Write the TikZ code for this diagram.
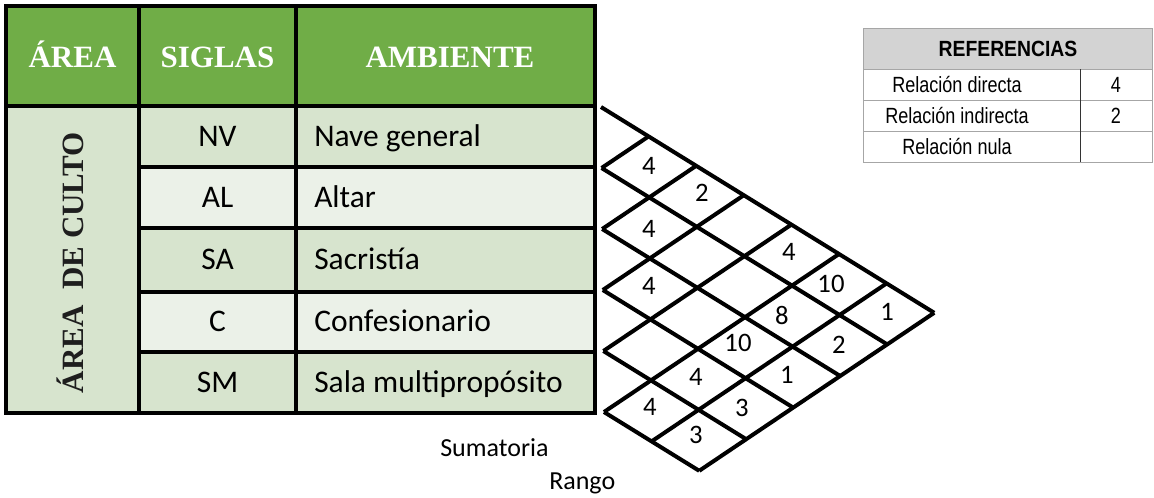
\documentclass[tikz,border=0pt]{standalone}
\usepackage{fontspec}
\setmainfont{Carlito}
\newfontfamily\tnr{Liberation Serif}
\newfontfamily\arialf{Liberation Sans}
\usepackage{graphicx}
\definecolor{hdrgreen}{HTML}{70AD47}
\definecolor{rowdark}{HTML}{D7E4CE}
\definecolor{rowlight}{HTML}{EBF1E8}
\definecolor{refgray}{HTML}{D3D3D3}
\definecolor{refline}{HTML}{A6A6A6}
\definecolor{lbl}{HTML}{1E1E1E}
\tikzset{
  tline/.style={line width=2.6pt, black},
  gline/.style={line width=3pt, black, line cap=butt},
  hdrtxt/.style={anchor=base, inner sep=0pt, text=white, font=\tnr\bfseries\fontsize{23.25}{28}\selectfont},
  bodytxt/.style={anchor=base, inner sep=0pt, text=black, font=\fontsize{23.6}{28}\selectfont},
  numtxt/.style={inner sep=0pt, text=black, font=\fontsize{20}{24}\selectfont},
  reftxt/.style={inner sep=0pt, text=black, font=\arialf\fontsize{16.5}{20}\selectfont},
  sumtxt/.style={anchor=base west, inner sep=0pt, text=black, font=\fontsize{19.5}{23}\selectfont}
}
\begin{document}
\begin{tikzpicture}[x=0.75pt,y=-0.75pt]
\useasboundingbox (0,0) rectangle (1154,497);

% ---------- main table fills ----------
\fill[hdrgreen] (6,6) rectangle (595,106);
\fill[rowdark] (6,106) rectangle (139,413);
\fill[rowdark]  (139,106) rectangle (595,167);
\fill[rowlight] (139,167) rectangle (595,228);
\fill[rowdark]  (139,228) rectangle (595,292);
\fill[rowlight] (139,292) rectangle (595,352);
\fill[rowdark]  (139,352) rectangle (595,413);

% ---------- main table lines ----------
\draw[tline] (6,6) rectangle (595,413);
\draw[tline] (6,106) -- (595,106);
\draw[tline] (139,6) -- (139,413);
\draw[tline] (296,6) -- (296,413);
\foreach \yy in {167,228,292,352} \draw[tline] (139,\yy) -- (595,\yy);

% ---------- header texts ----------
\node[hdrtxt] (hArea) at (72.5,67) {ÁREA};
\node[hdrtxt] (hSiglas) at (217.5,67) {SIGLAS};
\node[hdrtxt] (hAmb) at (450,67) {AMBIENTE};

% ---------- rotated area label ----------
\node[anchor=base, rotate=90, inner sep=0pt, text=lbl, font=\tnr\bfseries\fontsize{23.25}{28}\selectfont] (areaCulto) at (83,262.5) {ÁREA\ \ DE CULTO};

% ---------- rows ----------
\node[bodytxt] (sNV) at (217.5,146) {NV};
\node[bodytxt] (sAL) at (217.5,207) {AL};
\node[bodytxt] (sSA) at (217.5,269.5) {SA};
\node[bodytxt] (sC)  at (217.5,331.5) {C};
\node[bodytxt] (sSM) at (217.5,392) {SM};
\node[bodytxt, anchor=base west] (aNV) at (314,146) {Nave general};
\node[bodytxt, anchor=base west] (aAL) at (314,207) {Altar};
\node[bodytxt, anchor=base west] (aSA) at (314,269.5) {Sacristía};
\node[bodytxt, anchor=base west] (aC)  at (314,331.5) {Confesionario};
\node[bodytxt, anchor=base west] (aSM) at (314,392) {Sala multipropósito};

% ---------- relationship grid ----------
\foreach \a in {0,...,7}{
  \foreach \b in {0,...,5}{
    \coordinate (p\a-\b) at ({601+47.6*\a-47*\b},{107+29.4*\a+31.6*\b});
  }
}
\foreach \b in {0,...,5} \draw[gline] (p\b-\b) -- (p7-\b);
\foreach \a in {1,...,7}{
  \pgfmathtruncatemacro\mm{min(\a,5)}
  \draw[gline] (p\a-0) -- (p\a-\mm);
}

% ---------- values ----------
\node[numtxt] (v10) at (649,166) {4};
\node[numtxt] (v20) at (702,193) {2};
\node[numtxt] (v21) at (649,229) {4};
\node[numtxt] (v40) at (789,252) {4};
\node[numtxt] (v32) at (649,286) {4};
\node[numtxt] (v50) at (831,284) {10};
\node[numtxt] (v51) at (782,315) {8};
\node[numtxt] (v60) at (887,312) {1};
\node[numtxt] (v52) at (738,343) {10};
\node[numtxt] (v61) at (839,345) {2};
\node[numtxt] (v53) at (696,377) {4};
\node[numtxt] (v62) at (787,375) {1};
\node[numtxt] (v54) at (650,407) {4};
\node[numtxt] (v63) at (742,408) {3};
\node[numtxt] (v64) at (696,435) {3};

\node[sumtxt] (sumat) at (440,456) {Sumatoria};
\node[sumtxt] (rango) at (549,489) {Rango};

% ---------- references table ----------
\fill[refgray] (863,28) rectangle (1152,69);
\draw[refline, line width=0.75pt] (863,28) rectangle (1152,162);
\foreach \yy in {69,100,131} \draw[refline, line width=0.75pt] (863,\yy) -- (1152,\yy);
\draw[black!80, line width=0.6pt] (1080,69) -- (1080,162);
\node[inner sep=0pt, font=\arialf\bfseries\fontsize{16.5}{20}\selectfont] (refH) at (1008,49) {\scalebox{0.88}[1]{REFERENCIAS}};
\node[reftxt] (r1) at (957,85) {\scalebox{0.82}[1]{Relación directa}};
\node[reftxt] (r2) at (957,116) {\scalebox{0.82}[1]{Relación indirecta}};
\node[reftxt] (r3) at (957,147) {\scalebox{0.82}[1]{Relación nula}};
\node[reftxt] (r1v) at (1116,85) {\scalebox{0.82}[1]{4}};
\node[reftxt] (r2v) at (1116,116) {\scalebox{0.82}[1]{2}};
\end{tikzpicture}
\end{document}
